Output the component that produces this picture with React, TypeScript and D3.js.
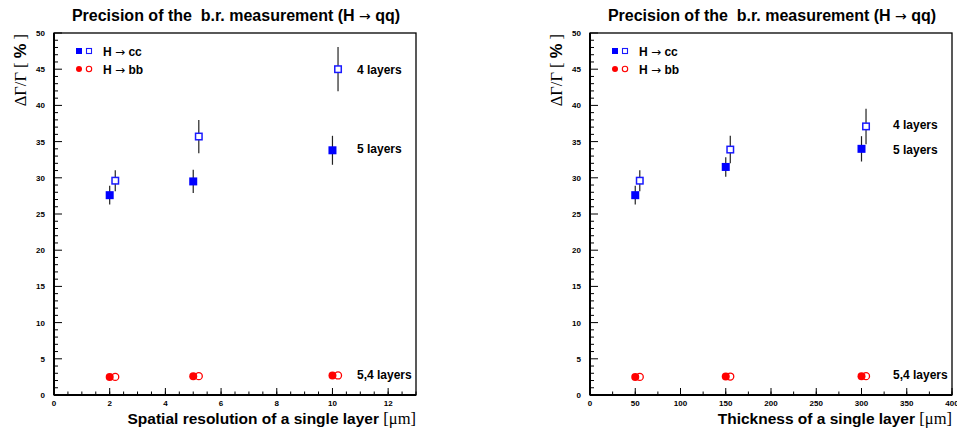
import React from 'react';
import * as d3 from 'd3';

// data
const resX5 = [2, 5, 10];
const resX4 = [2.2, 5.2, 10.2];
const resCc5 = [27.6, 29.5, 33.8];
const resCc5Err = [1.3, 1.6, 2.0];
const resCc4 = [29.6, 35.7, 45.0];
const resCc4Err = [1.45, 2.3, 3.05];
const resBb5 = [2.5, 2.6, 2.7];
const resBb4 = [2.5, 2.6, 2.7];

const thkX5 = [50, 150, 300];
const thkX4 = [55, 155, 305];
const thkCc5 = [27.6, 31.5, 34.0];
const thkCc5Err = [1.3, 1.35, 1.75];
const thkCc4 = [29.6, 33.9, 37.1];
const thkCc4Err = [1.45, 1.9, 2.45];
const thkBb5 = [2.5, 2.55, 2.6];
const thkBb4 = [2.5, 2.55, 2.6];

const yTicks = [0, 5, 10, 15, 20, 25, 30, 35, 40, 45, 50];

const SANS = '"Liberation Sans", Arial, Helvetica, sans-serif';
const SERIF = '"Liberation Serif", "Times New Roman", serif';
const ARROW = '"DejaVu Sans", sans-serif';

type PanelProps = {
  left: number;
  right: number;
  xMax: number;
  xMajor: number;
  xMinor: number;
  xTitle: string;
  x5: number[];
  x4: number[];
  cc5: number[];
  cc5Err: number[];
  cc4: number[];
  cc4Err: number[];
  bb5: number[];
  bb4: number[];
  lab4y: number;
  lab5y: number;
};

const Panel = (p: PanelProps) => {
  const top = 33, bottom = 395;
  const x = d3.scaleLinear().domain([0, p.xMax]).range([p.left, p.right]);
  const y = d3.scaleLinear().domain([0, 50]).range([bottom, top]);
  const xMajorTicks = d3.range(0, p.xMax + 1e-9, p.xMajor);
  const xMinorTicks = d3.range(0, p.xMax + 1e-9, p.xMinor);
  const yMinor = d3.range(0, 50.001, 1);
  const cx = (p.left + p.right) / 2 + 1;
  const labX = p.right - 59;
  const sq = 8;

  return (
    <g>
      <text x={cx} y={21} textAnchor="middle" fontFamily={SANS} fontWeight="bold" fontSize={16} style={{ whiteSpace: 'pre' }}>
        {'Precision of the  b.r. measurement (H '}
        <tspan fontFamily={ARROW} fontWeight="normal" fontSize={14}>→</tspan>
        {' qq)'}
      </text>

      {/* frame */}
      <rect x={p.left} y={top} width={p.right - p.left} height={bottom - top} fill="none" stroke="#000" strokeWidth={1.3} />
      <line x1={p.left} x2={p.right} y1={bottom} y2={bottom} stroke="#000" strokeWidth={2} />
      <line x1={p.left} x2={p.left} y1={top} y2={bottom} stroke="#000" strokeWidth={2} />

      {/* y ticks */}
      {yMinor.map((v) => (
        <line key={'ym' + v} x1={p.left} x2={p.left + (v % 5 === 0 ? 8 : 4)} y1={y(v)} y2={y(v)} stroke="#000" strokeWidth={1} />
      ))}
      {yTicks.map((v) => (
        <text key={'yl' + v} x={p.left - 9} y={y(v) + 3} textAnchor="end" fontFamily={SANS} fontWeight="bold" fontSize={8}>
          {v}
        </text>
      ))}

      {/* x ticks */}
      {xMinorTicks.map((v) => (
        <line key={'xm' + v} x1={x(v)} x2={x(v)} y1={bottom} y2={bottom - 3.5} stroke="#000" strokeWidth={1} />
      ))}
      {xMajorTicks.map((v) => (
        <g key={'xM' + v}>
          <line x1={x(v)} x2={x(v)} y1={bottom} y2={bottom - 7} stroke="#000" strokeWidth={1} />
          <text x={x(v)} y={406} textAnchor="middle" fontFamily={SANS} fontWeight="bold" fontSize={8}>
            {v}
          </text>
        </g>
      ))}

      {/* axis titles */}
      <text x={p.right} y={424} textAnchor="end" fontFamily={SANS} fontWeight="bold" fontSize={15.5}>
        {p.xTitle} <tspan fontFamily={SERIF} fontWeight="normal" fontSize={16.5}>[μm]</tspan>
      </text>
      <text transform={`translate(${p.left - 28},${top + 1}) rotate(-90)`} textAnchor="end" fontFamily={SERIF} fontSize={16.5} style={{ whiteSpace: 'pre' }}>
        {'ΔΓ/Γ [ '}
        <tspan fontFamily={SANS} fontWeight="bold">%</tspan>
        {' ]'}
      </text>

      {/* error bars */}
      {p.x5.map((v, i) => (
        <line key={'e5' + i} x1={x(v)} x2={x(v)} y1={y(p.cc5[i] - p.cc5Err[i])} y2={y(p.cc5[i] + p.cc5Err[i])} stroke="#222" strokeWidth={1.2} />
      ))}
      {p.x4.map((v, i) => (
        <line key={'e4' + i} x1={x(v)} x2={x(v)} y1={y(p.cc4[i] - p.cc4Err[i])} y2={y(p.cc4[i] + p.cc4Err[i])} stroke="#222" strokeWidth={1.2} />
      ))}

      {/* H -> cc */}
      {p.x4.map((v, i) => (
        <rect key={'o4' + i} x={x(v) - sq / 2 + 0.75} y={y(p.cc4[i]) - sq / 2 + 0.75} width={sq - 1.5} height={sq - 1.5} fill="#fff" stroke="#1a1aff" strokeWidth={1.5} />
      ))}
      {p.x5.map((v, i) => (
        <rect key={'f5' + i} x={x(v) - sq / 2} y={y(p.cc5[i]) - sq / 2} width={sq} height={sq} fill="#0000ff" />
      ))}

      {/* H -> bb */}
      {p.x4.map((v, i) => (
        <circle key={'ob' + i} cx={x(v)} cy={y(p.bb4[i])} r={3.5} fill="#fff" stroke="#ff0000" strokeWidth={1.3} />
      ))}
      {p.x5.map((v, i) => (
        <circle key={'fb' + i} cx={x(v)} cy={y(p.bb5[i])} r={4} fill="#ff0000" />
      ))}

      {/* legend */}
      <rect x={p.left + 22} y={48} width={6} height={6} fill="#0000ff" />
      <rect x={p.left + 32.5} y={48.5} width={5} height={5} fill="#fff" stroke="#1a1aff" strokeWidth={1.1} />
      <text x={p.left + 49} y={55.5} fontFamily={SANS} fontWeight="bold" fontSize={12} style={{ whiteSpace: 'pre' }}>
        {'H '}
        <tspan fontFamily={ARROW} fontWeight="normal" fontSize={12}>→</tspan>
        {' cc'}
      </text>
      <circle cx={p.left + 25} cy={69} r={3} fill="#ff0000" />
      <circle cx={p.left + 35} cy={69} r={2.7} fill="#fff" stroke="#ff0000" strokeWidth={1.1} />
      <text x={p.left + 49} y={73.5} fontFamily={SANS} fontWeight="bold" fontSize={12} style={{ whiteSpace: 'pre' }}>
        {'H '}
        <tspan fontFamily={ARROW} fontWeight="normal" fontSize={12}>→</tspan>
        {' bb'}
      </text>

      {/* layer labels */}
      <text x={labX} y={p.lab4y} fontFamily={SANS} fontWeight="bold" fontSize={12}>4 layers</text>
      <text x={labX} y={p.lab5y} fontFamily={SANS} fontWeight="bold" fontSize={12}>5 layers</text>
      <text x={labX} y={378.5} fontFamily={SANS} fontWeight="bold" fontSize={12}>5,4 layers</text>
    </g>
  );
};

export default function App() {
  return (
    <div style={{ position: 'absolute', left: 0, top: 0 }}>
      <svg width={957} height={430} style={{ display: 'block', background: '#fff' }}>
        <Panel
          left={54}
          right={416}
          xMax={13}
          xMajor={2}
          xMinor={0.5}
          xTitle="Spatial resolution of a single layer"
          x5={resX5}
          x4={resX4}
          cc5={resCc5}
          cc5Err={resCc5Err}
          cc4={resCc4}
          cc4Err={resCc4Err}
          bb5={resBb5}
          bb4={resBb4}
          lab4y={73.5}
          lab5y={152.5}
        />
        <Panel
          left={590}
          right={952}
          xMax={400}
          xMajor={50}
          xMinor={25}
          xTitle="Thickness of a single layer"
          x5={thkX5}
          x4={thkX4}
          cc5={thkCc5}
          cc5Err={thkCc5Err}
          cc4={thkCc4}
          cc4Err={thkCc4Err}
          bb5={thkBb5}
          bb4={thkBb4}
          lab4y={129}
          lab5y={154}
        />
      </svg>
    </div>
  );
}
